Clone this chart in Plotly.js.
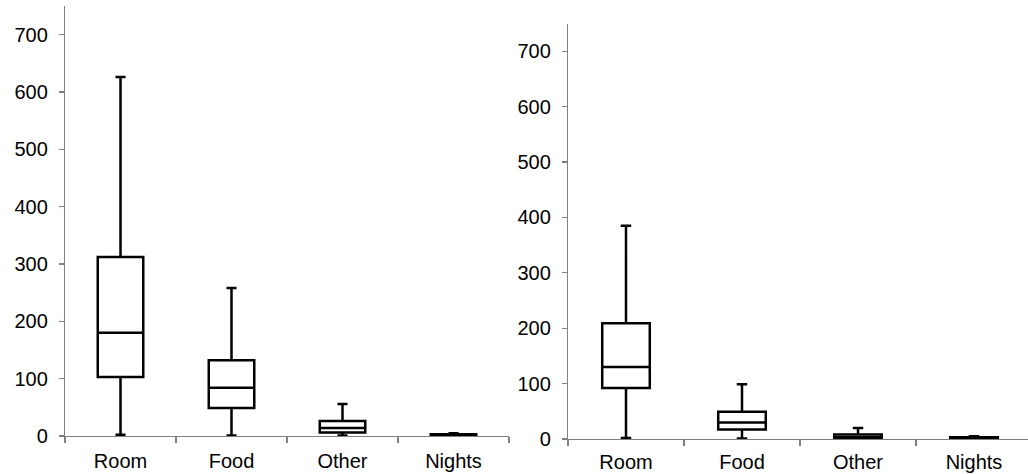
<!DOCTYPE html>
<html>
<head>
<meta charset="utf-8">
<script src="https://cdn.plot.ly/plotly-3.0.1.min.js"></script>
<style>
html,body{margin:0;padding:0;overflow:hidden;background:#fff;}
#chart{width:1036px;height:474px;}
</style>
</head>
<body>
<div id="chart"></div>
<script>
const categories = ["Room", "Food", "Other", "Nights"];

// Left panel
const leftMin    = [2, 1, 1, 0.5];
const leftQ1     = [103, 49, 6, 1];
const leftMedian = [180, 84, 14, 2];
const leftQ3     = [312, 132, 26, 3];
const leftMax    = [626, 258, 56, 5];

// Right panel
const rightMin    = [2, 1, 0, 0.5];
const rightQ1     = [92, 17, 1, 1];
const rightMedian = [130, 30, 3, 2];
const rightQ3     = [209, 49, 8, 3];
const rightMax    = [385, 99, 20, 5];

const yTicks = [0, 100, 200, 300, 400, 500, 600, 700];

const W = 1036, H = 474;
const boxStyle = {
  type: "box",
  x: categories,
  line: {color: "#000", width: 2.5},
  fillcolor: "#fff",
  width: 0.41,
  whiskerwidth: 0.22,
  showlegend: false,
  hoverinfo: "skip"
};

const traces = [
  Object.assign({}, boxStyle, {
    xaxis: "x", yaxis: "y",
    lowerfence: leftMin, q1: leftQ1, median: leftMedian, q3: leftQ3, upperfence: leftMax
  }),
  Object.assign({}, boxStyle, {
    xaxis: "x2", yaxis: "y2",
    lowerfence: rightMin, q1: rightQ1, median: rightMedian, q3: rightQ3, upperfence: rightMax
  })
];

const font = {family: "Liberation Sans, Arial, sans-serif", size: 20, color: "#000"};

function xAxis(domain, anchor, standoff) {
  return {
    domain: domain, anchor: anchor, type: "category",
    categoryorder: "array", categoryarray: categories,
    range: [-0.5, 3.5], autorange: false,
    showline: true, linecolor: "#808080", linewidth: 1.2,
    ticks: "outside", tickson: "boundaries", ticklen: 6, tickcolor: "#808080", tickwidth: 1.2,
    showgrid: false, zeroline: false, tickfont: font, ticklabelstandoff: standoff
  };
}
function yAxis(domain, anchor) {
  return {
    domain: domain, anchor: anchor, range: [0, 750], autorange: false,
    tickmode: "array", tickvals: yTicks, ticktext: yTicks.map(String),
    showline: true, linecolor: "#808080", linewidth: 1.2,
    ticks: "outside", ticklen: 5, tickcolor: "#808080", tickwidth: 1.2,
    showgrid: false, zeroline: false, tickfont: font, ticklabelstandoff: 7
  };
}

const layout = {
  width: W, height: H,
  margin: {l: 0, r: 0, t: 0, b: 0},
  paper_bgcolor: "#fff", plot_bgcolor: "#fff",
  font: font,
  xaxis: xAxis([65 / W, 509 / W], "y", 7),
  yaxis: yAxis([(H - 436) / H, (H - 6) / H], "x"),
  xaxis2: xAxis([568 / W, 1032 / W], "y2", 5),
  yaxis2: yAxis([(H - 439) / H, (H - 23.5) / H], "x2")
};

Plotly.newPlot("chart", traces, layout, {displayModeBar: false, staticPlot: true});
</script>
</body>
</html>
